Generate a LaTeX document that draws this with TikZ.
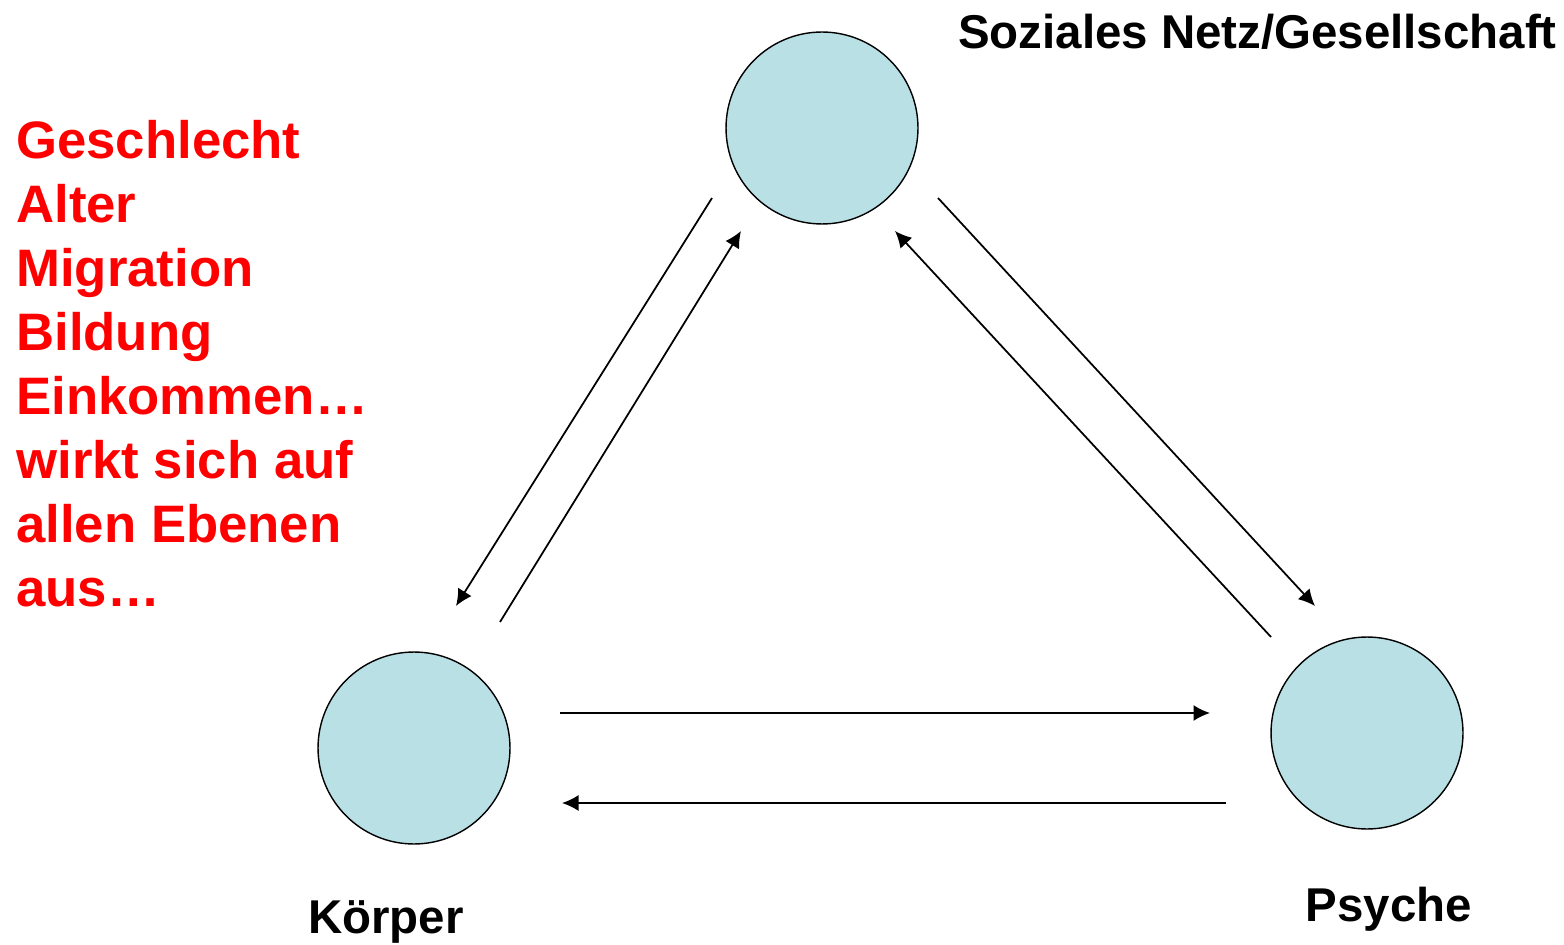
\documentclass[tikz,border=0pt]{standalone}
\usepackage{fontspec}
\setmainfont{Liberation Sans}
\usetikzlibrary{arrows.meta}
\definecolor{kreisblau}{RGB}{185,224,228}

\begin{document}
\begin{tikzpicture}[x=0.02cm,y=-0.02cm,
	kreis/.style={draw,circle,fill=kreisblau,minimum size=3.84cm,
	inner sep=0pt,line width=0.8pt},
	pfeil/.style={-{Latex[length=3.3mm,width=3.2mm]},line width=1pt},
	titel/.style={font=\bfseries\fontsize{27}{32}\selectfont,inner sep=0pt}]
\useasboundingbox (0,0) rectangle (1564,945);
\node [kreis] (S) at (822,128) {};
\node [kreis] (K) at (414,748) {};
\node [kreis] (P) at (1367,733) {};
\node [titel, anchor=base east] (Stext) at (1557,49) {Soziales Netz/Gesellschaft};
\node [titel, anchor=base] (Ktext) at (386,933) {Körper};
\node [titel, anchor=base] (Ptext) at (1389,921) {Psyche};
\node [titel, text=red, font=\bfseries\fontsize{30}{36.4}\selectfont, anchor=north west, align=left] (Faktoren) at (16,120)
	{Geschlecht\\Alter\\Migration\\Bildung\\Einkommen\dots\\wirkt sich auf\\allen Ebenen\\aus\dots};
% Pfeilenden
\coordinate (SK1) at (712,198);
\coordinate (SK2) at (456,606);
\coordinate (KS1) at (500,622);
\coordinate (KS2) at (741,231);
\coordinate (SP1) at (938,198);
\coordinate (SP2) at (1315,606);
\coordinate (PS1) at (1271,637);
\coordinate (PS2) at (895,231);
\coordinate (KP1) at (560,713);
\coordinate (KP2) at (1210,713);
\coordinate (PK1) at (1226,803);
\coordinate (PK2) at (562,803);
\draw [pfeil] (SK1)--(SK2);
\draw [pfeil] (KS1)--(KS2);
\draw [pfeil] (SP1)--(SP2);
\draw [pfeil] (PS1)--(PS2);
\draw [pfeil] (KP1)--(KP2);
\draw [pfeil] (PK1)--(PK2);
\end{tikzpicture}
\end{document}
